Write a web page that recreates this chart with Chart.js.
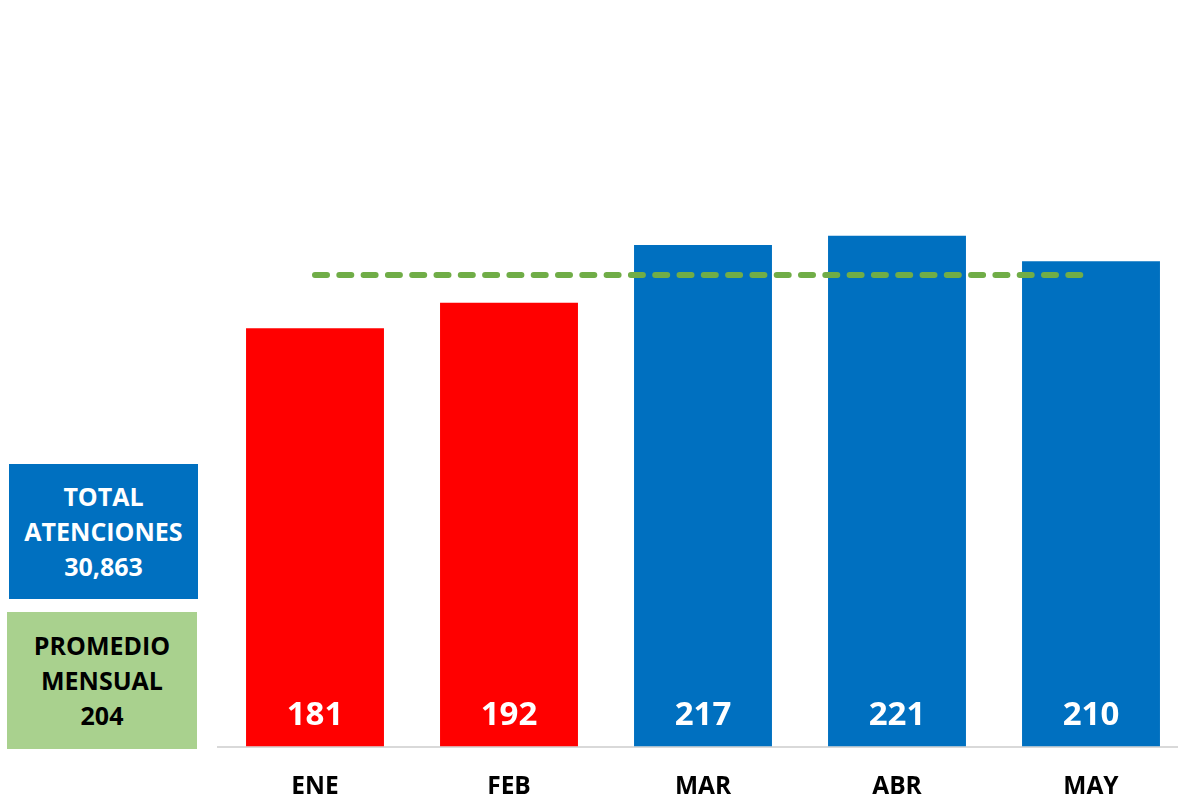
<!DOCTYPE html>
<html>
<head>
<meta charset="utf-8">
<script src="https://cdn.jsdelivr.net/npm/chart.js@4.4.1/dist/chart.umd.min.js"></script>
<style>
    html, body { margin: 0; padding: 0; background: #fff; overflow: hidden; }
    #wrap { position: relative; width: 1178px; height: 807px; overflow: hidden; }
    #chart { position: absolute; left: 0; top: 0; }
    .caja {
        position: absolute;
        font-family: "Open Sans", sans-serif;
        font-weight: bold;
        font-size: 25px;
        line-height: 35px;
        text-align: center;
        display: flex;
        align-items: center;
        justify-content: center;
    }
    #total { left: 9px; top: 464px; width: 189px; height: 135px; background: #0070C0; color: #fff; }
    #promedio { left: 7px; top: 612px; width: 190px; height: 137px; background: #A9D18E; color: #000; }
</style>
</head>
<body>
<div id="wrap">
    <canvas id="chart" width="1190" height="830"></canvas>
    <div class="caja" id="total"><div>TOTAL<br>ATENCIONES<br>30,863</div></div>
    <div class="caja" id="promedio"><div>PROMEDIO<br>MENSUAL<br>204</div></div>
</div>
<script>
// datos
const meses = ['ENE', 'FEB', 'MAR', 'ABR', 'MAY'];
const atenciones = [181, 192, 217, 221, 210];
const promedio = [204, 204, 204, 204, 204];
const coloresBarras = ['#FF0000', '#FF0000', '#0070C0', '#0070C0', '#0070C0'];

// valores dentro de la barra, abajo
const etiquetasBarras = {
    id: 'etiquetasBarras',
    afterDatasetsDraw(chart) {
        const ctx = chart.ctx;
        const meta = chart.getDatasetMeta(0);
        const base = chart.scales.y.bottom;
        ctx.save();
        ctx.font = 'bold 33px "Open Sans"';
        ctx.fillStyle = '#fff';
        ctx.textAlign = 'center';
        ctx.textBaseline = 'middle';
        meta.data.forEach((bar, i) => {
            ctx.fillText(atenciones[i], bar.x, base - 31);
        });
        ctx.restore();
    }
};

const ctx = document.getElementById('chart').getContext('2d');
const grafico = new Chart(ctx, {
    data: {
        labels: meses,
        datasets: [
            {
                type: 'bar',
                label: 'Atenciones',
                data: atenciones,
                backgroundColor: coloresBarras,
                barPercentage: 0.711,
                categoryPercentage: 1,
                order: 1
            },
            {
                type: 'line',
                label: 'Promedio',
                data: promedio,
                borderColor: '#70AD47',
                borderWidth: 6,
                borderDash: [12, 12.3],
                borderCapStyle: 'round',
                pointRadius: 0,
                fill: false,
                order: 0
            }
        ]
    },
    options: {
        responsive: false,
        animation: false,
        devicePixelRatio: 1,
        layout: { padding: { left: 218, right: 2, top: 0, bottom: 2 } },
        plugins: {
            legend: { display: false },
            tooltip: { enabled: false }
        },
        scales: {
            y: { display: false, min: 0, max: 323 },
            x: {
                grid: { display: false, drawTicks: false },
                border: { display: true, color: '#d9d9d9', width: 2 },
                ticks: {
                    color: '#000',
                    padding: 26,
                    font: { family: 'Open Sans', size: 24.5, weight: 'bold' }
                }
            }
        }
    },
    plugins: [etiquetasBarras]
});
</script>
</body>
</html>
